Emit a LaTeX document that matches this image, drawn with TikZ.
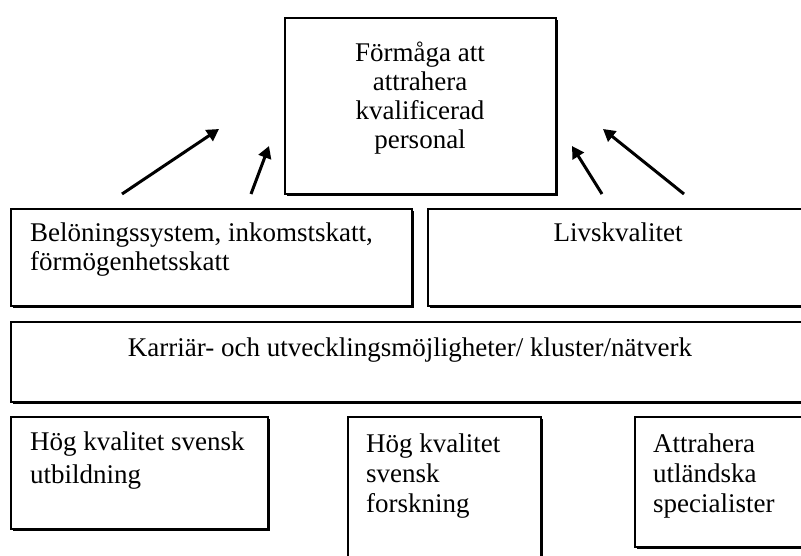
\documentclass[tikz,border=0pt]{standalone}
\usepackage{fontspec}
\setmainfont{Liberation Serif}
\usetikzlibrary{arrows.meta,shadows}
\begin{document}
\begin{tikzpicture}[x=1pt,y=-1pt,
  box/.style={draw=black, line width=1.6pt, fill=white, inner sep=0pt, anchor=north west,
    drop shadow={opacity=1, fill=black, shadow xshift=2.2pt, shadow yshift=-2.2pt}},
  txt/.style={inner sep=0pt},
  arr/.style={line width=3pt, -{Triangle[length=12pt,width=13pt]}}]
\useasboundingbox (0,0) rectangle (801,556);
\clip (0,0) rectangle (801,556);
% boxes
\node[box, minimum width=271pt, minimum height=176pt] (top) at (284,17) {};
\node[box, minimum width=401pt, minimum height=97pt] (lm) at (10,208) {};
\node[box, minimum width=400pt, minimum height=97pt] (rm) at (427,208) {};
\node[box, minimum width=820pt, minimum height=80pt] (kar) at (10,321) {};
\node[box, minimum width=257pt, minimum height=112pt] (b1) at (10,416) {};
\node[box, minimum width=193pt, minimum height=170pt] (b2) at (347,416) {};
\node[box, minimum width=200pt, minimum height=130pt] (b3) at (634,416) {};
% texts (base anchor = baseline of the last line)
\node[txt, font=\fontsize{27}{29}\selectfont, anchor=base, align=center] (ttop) at (420,149) {Förmåga att\\attrahera\\kvalificerad\\personal};
\node[txt, font=\fontsize{27}{29}\selectfont, anchor=base west, align=left] (tlm) at (30,271) {Belöningssystem, inkomstskatt,\\förmögenhetsskatt};
\node[txt, font=\fontsize{27}{29}\selectfont, anchor=base] (trm) at (618,242) {Livskvalitet};
\node[txt, font=\fontsize{27}{29}\selectfont, anchor=base] (tkar) at (410,356) {Karriär- och utvecklingsmöjligheter/ kluster/nätverk};
\node[txt, font=\fontsize{27}{33}\selectfont, anchor=base west, align=left] (tb1) at (30,483) {Hög kvalitet svensk\\utbildning};
\node[txt, font=\fontsize{27}{30}\selectfont, anchor=base west, align=left] (tb2) at (366,512) {Hög kvalitet\\svensk\\forskning};
\node[txt, font=\fontsize{27}{30}\selectfont, anchor=base west, align=left] (tb3) at (653,512) {Attrahera\\utländska\\specialister};
% arrows
\coordinate (a1s) at (122,194); \coordinate (a1e) at (219,129);
\coordinate (a2s) at (251,194); \coordinate (a2e) at (269,146);
\coordinate (a3s) at (602,194); \coordinate (a3e) at (572,146);
\coordinate (a4s) at (684,194); \coordinate (a4e) at (603,129);
\draw[arr] (a1s) -- (a1e);
\draw[arr] (a2s) -- (a2e);
\draw[arr] (a3s) -- (a3e);
\draw[arr] (a4s) -- (a4e);
\end{tikzpicture}
\end{document}
